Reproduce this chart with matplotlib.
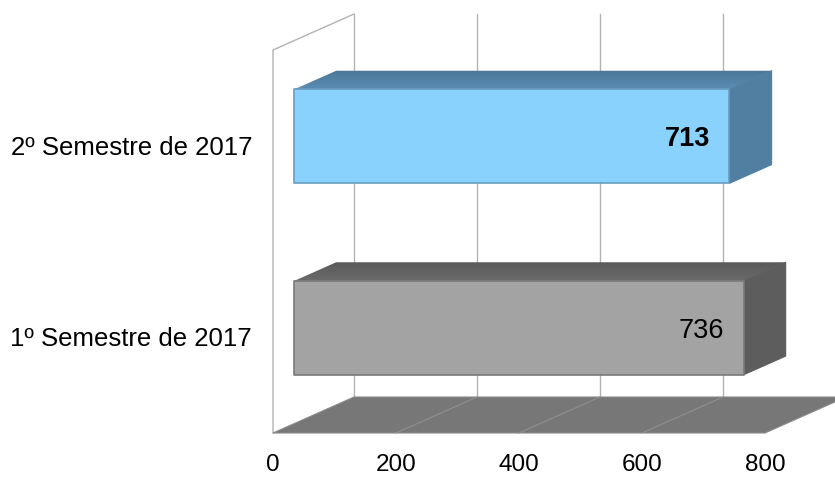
import matplotlib
matplotlib.use("Agg")
import matplotlib.pyplot as plt
import numpy as np
from matplotlib.patches import Polygon

plt.rcParams['font.family'] = ['Liberation Sans', 'DejaVu Sans']

# data
categories = ["1º Semestre de 2017", "2º Semestre de 2017"]
values = [736, 713]
value_bold = [False, True]
x_ticks = [0, 200, 400, 600, 800]

front_colors = ["#a3a3a3", "#8ad2fe"]
top_colors = [("#5a5a5a", "#6a6a6a"), ("#4a7799", "#5a8cb2")]
side_colors = ["#5d5d5d", "#507fa2"]
edge_colors = ["#7a7a7a", "#6a9cc0"]

# layout (pixels of the 835x478 picture)
W, H = 835, 478
x0_px, x800_px = 273, 765
ybot_px, ytop_px = 433, 50
depth_dx, depth_dy = 81, 36
bar_d0, bar_d1 = 0.26, 0.78
bar_half = 0.245
bar_scale = 0.993  # bars sit a bit deeper, so they look slightly shorter

ux = 800 / (x800_px - x0_px)
uy = 2 / (ybot_px - ytop_px)


def proj(v, c, d):
    return v + d * depth_dx * ux, c + d * depth_dy * uy


fig = plt.figure(figsize=(W / 100, H / 100), dpi=100)
ax = fig.add_axes([0, 0, 1, 1])
ax.set_xlim(-x0_px * ux, (W - x0_px) * ux)
ax.set_ylim(-(H - ybot_px) * uy, ybot_px * uy)
ax.axis("off")

grid_c = "#b3b3b3"

# back wall grid
for v in x_ticks:
    p0 = proj(v, 0, 1)
    p1 = proj(v, 2, 1)
    ax.plot([p0[0], p1[0]], [p0[1], p1[1]], color=grid_c, lw=1, zorder=1)

# left wall
pts = [proj(0, 0, 0), proj(0, 2, 0), proj(0, 2, 1)]
ax.plot([p[0] for p in pts], [p[1] for p in pts], color=grid_c, lw=1, zorder=1)

# floor
floor = [proj(0, 0, 0), proj(800, 0, 0), proj(800, 0, 1), proj(0, 0, 1)]
ax.add_patch(Polygon(floor, closed=True, facecolor="#777777", edgecolor="#8a8a8a",
                     lw=0.8, zorder=2))
for v in x_ticks[1:-1]:
    p0 = proj(v, 0, 0)
    p1 = proj(v, 0, 1)
    ax.plot([p0[0], p1[0]], [p0[1], p1[1]], color="#8f8f8f", lw=0.8, zorder=3)


def grad_poly(verts, c_front, c_back, z):
    # polygon filled with a vertical gradient (back darker)
    poly = Polygon(verts, closed=True, facecolor="none", edgecolor="none", zorder=z)
    ax.add_patch(poly)
    ys = [p[1] for p in verts]
    xs = [p[0] for p in verts]
    cmap = matplotlib.colors.LinearSegmentedColormap.from_list("g", [c_front, c_back])
    grad = np.linspace(0, 1, 64).reshape(-1, 1)
    im = ax.imshow(grad, cmap=cmap, aspect="auto", origin="lower",
                   extent=(min(xs), max(xs), min(ys), max(ys)), zorder=z,
                   interpolation="bilinear")
    im.set_clip_path(poly)


# bars
for i, (cat, val) in enumerate(zip(categories, values)):
    v = val * bar_scale
    c = i + 0.5
    lo, hi = c - bar_half, c + bar_half
    top = [proj(0, hi, bar_d0), proj(v, hi, bar_d0), proj(v, hi, bar_d1), proj(0, hi, bar_d1)]
    grad_poly(top, top_colors[i][1], top_colors[i][0], 4)
    side = [proj(v, lo, bar_d0), proj(v, hi, bar_d0), proj(v, hi, bar_d1), proj(v, lo, bar_d1)]
    ax.add_patch(Polygon(side, closed=True, facecolor=side_colors[i], edgecolor=side_colors[i],
                         lw=0.8, joinstyle="round", zorder=4))
    front = [proj(0, lo, bar_d0), proj(v, lo, bar_d0), proj(v, hi, bar_d0), proj(0, hi, bar_d0)]
    ax.add_patch(Polygon(front, closed=True, facecolor=front_colors[i], edgecolor=edge_colors[i],
                         lw=1.2, joinstyle="round", zorder=5))

    # value label
    ax.annotate(str(val), xy=proj(v, c, bar_d0), xytext=(-19 * 0.72, -3 * 0.72),
                textcoords="offset points", ha="right", va="center", fontsize=19.5,
                fontweight="bold" if value_bold[i] else "normal", color="black", zorder=6)

    # category label
    ax.annotate(cat, xy=proj(0, c, 0), xytext=(-21 * 0.72, -2 * 0.72), textcoords="offset points",
                ha="right", va="center", fontsize=18.5, color="black")

# tick labels
for v in x_ticks:
    ax.annotate(str(v), xy=proj(v, 0, 0), xytext=(0, -32 * 0.72), textcoords="offset points",
                ha="center", va="center", fontsize=17.5, color="black")

fig.savefig("out.png", dpi=100)
